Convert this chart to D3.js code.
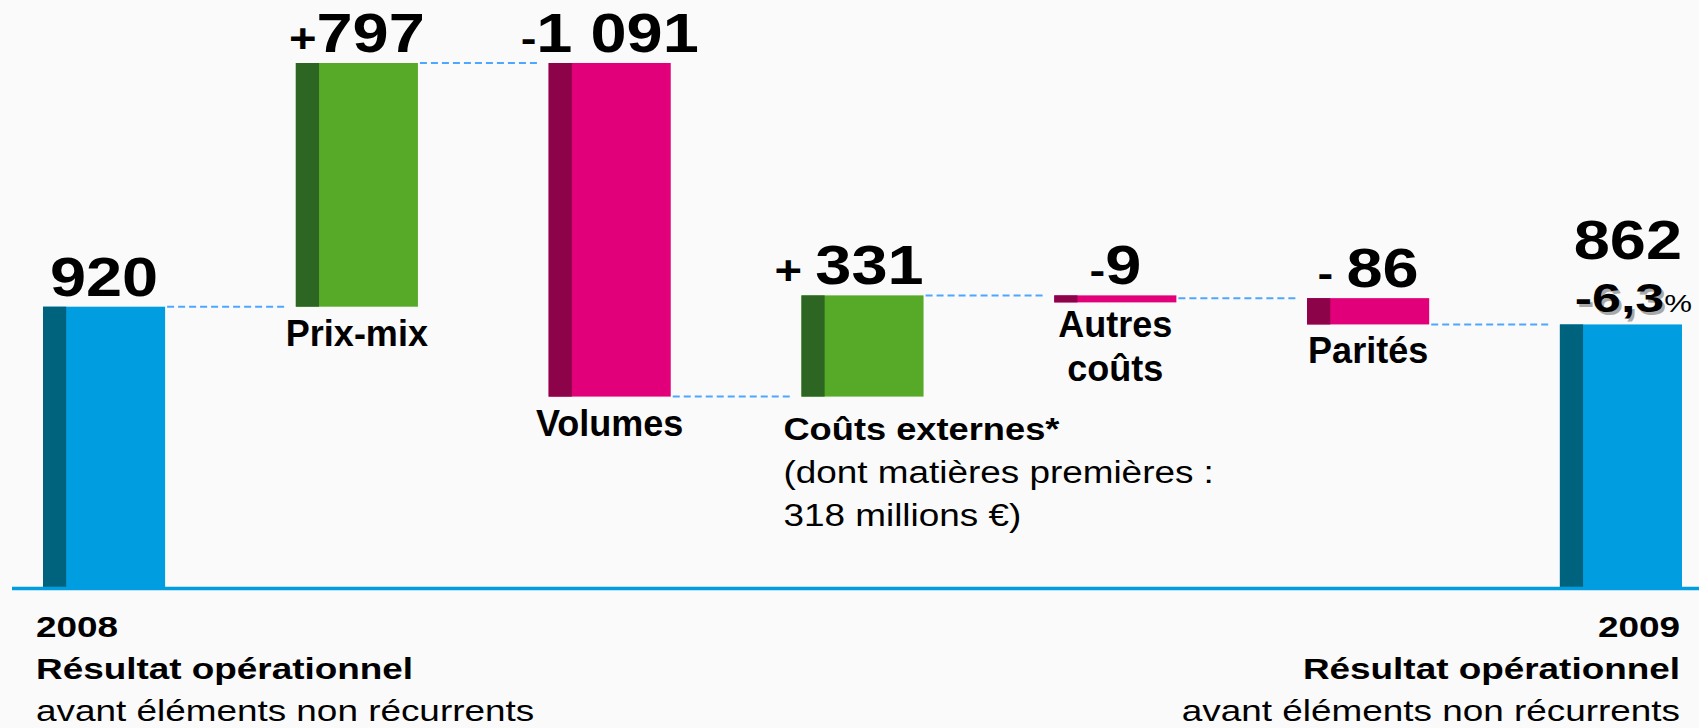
<!DOCTYPE html>
<html>
<head>
<meta charset="utf-8">
<script src="https://cdn.jsdelivr.net/npm/d3@7"></script>
<style>
  html, body { margin: 0; padding: 0; background: #fafafa; }
  svg { display: block; }
  svg text { font-family: Arial, "Liberation Sans", Helvetica, sans-serif; }
</style>
</head>
<body>
<svg id="chart"></svg>
<script>
const WIDTH = 1699;
const HEIGHT = 728;

// data
const categories = ["2008", "Prix-mix", "Volumes", "Coûts externes*", "Autres coûts", "Parités", "2009"];
const values = [920, 797, -1091, 331, -9, -86, 862];
const kinds = ["total", "delta", "delta", "delta", "delta", "delta", "total"];
const valueSigns = ["", "+", "-", "+ ", "-", "- ", ""];
const valueTexts = ["920", "797", "1 091", "331", "9", "86", "862"];
const nameLines = [[], ["Prix-mix"], ["Volumes"], ["Coûts externes*"], ["Autres", "coûts"], ["Parités"], []];
const noteLines = ["(dont matières premières :", "318 millions €)"];
const totalLines = [["2008", "Résultat opérationnel", "avant éléments non récurrents"],
                    ["2009", "Résultat opérationnel", "avant éléments non récurrents"]];
const changeText = ["-6,3", "%"];

const COLORS = {
  total: ["#009ee0", "#00637d"],
  up: ["#56aa28", "#2d6622"],
  down: ["#e2007a", "#8c0349"]
};

let running = 0;
const steps = values.map((v, i) => {
  let start = kinds[i] === "total" ? 0 : running;
  let end = kinds[i] === "total" ? v : running + v;
  running = end;
  let type = kinds[i] === "total" ? "total" : (v >= 0 ? "up" : "down");
  return { cat: categories[i], value: v, start, end, type,
           lo: Math.min(start, end), hi: Math.max(start, end) };
});

const svg = d3.select("#chart").attr("width", WIDTH).attr("height", HEIGHT);
svg.append("rect").attr("width", WIDTH).attr("height", HEIGHT).attr("fill", "#fafafa");

const x = d3.scaleBand().domain(categories).range([43, 1682]).paddingInner(0.517).paddingOuter(0);
const y = d3.scaleLinear().domain([0, d3.max(steps, d => d.hi)]).range([588, 63]);
const bw = x.bandwidth();
const MIN_H = 7;

const stretched = (parent, px, py, sx, anchor) =>
  parent.append("text")
        .attr("transform", `translate(${px},${py}) scale(${sx},1)`)
        .attr("text-anchor", anchor);

// connectors
svg.append("g").selectAll("line")
   .data(steps.slice(0, -1))
   .join("line")
   .attr("x1", d => x(d.cat) + bw + 2)
   .attr("x2", (d, i) => x(categories[i + 1]) - 10)
   .attr("y1", d => y(d.end))
   .attr("y2", d => y(d.end))
   .attr("stroke", "#4da6ff")
   .attr("stroke-width", 2)
   .attr("stroke-dasharray", "7,4");

// bars
let bars = svg.append("g").selectAll("g").data(steps).join("g");
const barH = d => Math.max(y(d.lo) - y(d.hi), MIN_H);

bars.append("rect")
    .attr("x", d => x(d.cat))
    .attr("y", d => y(d.hi))
    .attr("width", bw)
    .attr("height", barH)
    .attr("fill", d => COLORS[d.type][0]);

bars.append("rect")
    .attr("x", d => x(d.cat))
    .attr("y", d => y(d.hi))
    .attr("width", bw * 0.19)
    .attr("height", barH)
    .attr("fill", d => COLORS[d.type][1]);

// baseline
svg.append("line")
   .attr("x1", 12).attr("x2", WIDTH)
   .attr("y1", y(0) + 0.5).attr("y2", y(0) + 0.5)
   .attr("stroke", "#009ee0")
   .attr("stroke-width", 3.5);

// value labels
steps.forEach((d, i) => {
  let last = i === steps.length - 1;
  let alignEnd = i === 3 || last;
  let px = alignEnd ? x(d.cat) + bw : x(d.cat) + bw / 2;
  let py = y(d.hi) - (last ? 65 : 11);
  let t = stretched(svg, px, py, 1.18, alignEnd ? "end" : "middle")
            .attr("font-weight", "bold").attr("font-size", 55).attr("fill", "#000");
  if (valueSigns[i]) t.append("tspan").attr("font-size", 40).text(valueSigns[i]);
  t.append("tspan").text(valueTexts[i]);
});

// change vs previous year, under the 2009 value
const last = steps[steps.length - 1];
[["#a8a8a8", 2.5], ["#000", 0]].forEach(([fill, off]) => {
  let t = stretched(svg, x(last.cat) + bw + 10 + off, y(last.hi) - 12 + off, 1.3, "end")
            .attr("font-weight", "bold").attr("font-size", 40).attr("fill", fill);
  t.append("tspan").text(changeText[0]);
  t.append("tspan").attr("font-size", 24).attr("font-weight", "normal")
   .attr("fill-opacity", off ? 0 : 1).text(changeText[1]);
});

// category labels under the floating bars
steps.forEach((d, i) => {
  nameLines[i].forEach((line, k) => {
    let isCouts = i === 3;
    let px = isCouts ? x(d.cat) - 18 : x(d.cat) + bw / 2;
    let py = y(d.lo) + (isCouts ? 43 : 39) + k * 44;
    stretched(svg, px, py, isCouts ? 1.17 : 1, isCouts ? "start" : "middle")
      .attr("font-weight", "bold").attr("font-size", isCouts ? 31 : 36)
      .text(line);
  });
});

// note under Coûts externes
const couts = steps[3];
noteLines.forEach((line, k) => {
  stretched(svg, x(couts.cat) - 18, y(couts.lo) + 43 + (k + 1) * 43, 1.19, "start")
    .attr("font-size", 31)
    .text(line);
});

// total labels under the axis
[[steps[0], "start", -7], [last, "end", bw - 2]].forEach(([d, anchor, dx], j) => {
  totalLines[j].forEach((line, k) => {
    stretched(svg, x(d.cat) + dx, y(0) + 49 + k * 42, 1.23, anchor)
      .attr("font-weight", k < 2 ? "bold" : "normal")
      .attr("font-size", 30)
      .text(line);
  });
});
</script>
</body>
</html>
